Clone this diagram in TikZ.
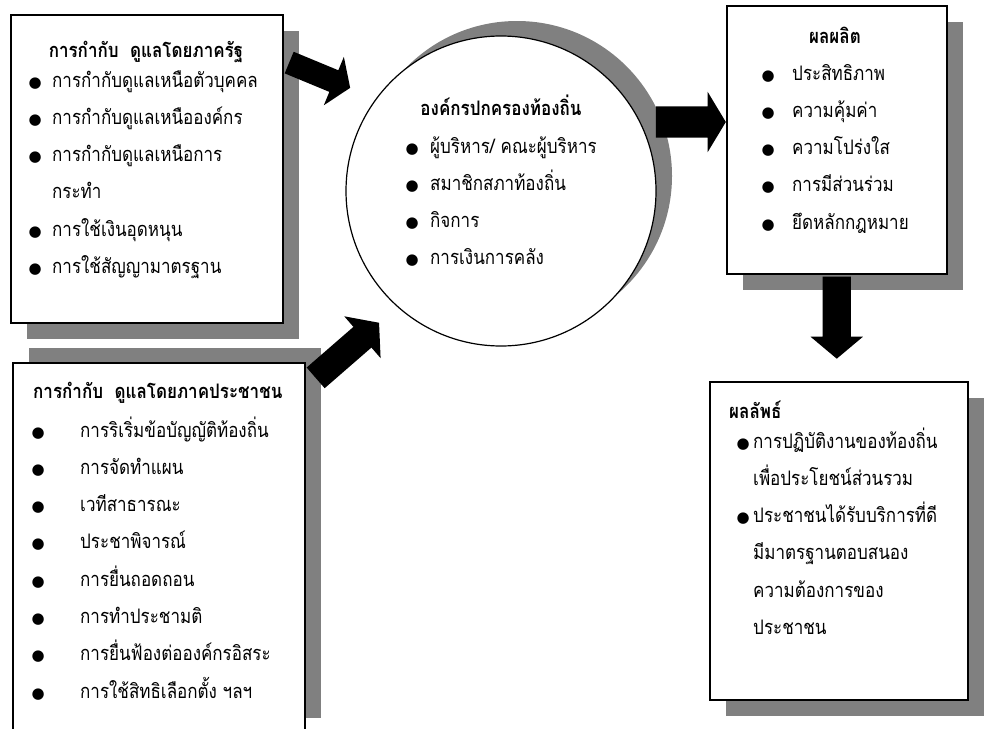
\documentclass[tikz,border=0pt]{standalone}
\usepackage{fontspec}
\setmainfont{Liberation Serif}
\newfontfamily\thai[Script=Thai,FakeStretch=0.85]{Loma}
\newfontfamily\dotfont{DejaVu Sans}
\usetikzlibrary{shapes.arrows,shadows}
\newcommand\dotmark{\makebox[9pt][c]{\dotfont\fontsize{15}{15}\selectfont ●}}
\tikzset{
  panel/.style={draw,line width=1.5pt,fill=white,inner sep=0pt,anchor=north west},
  shadelow/.style={drop shadow={shadow xshift=16pt,shadow yshift=-16pt,opacity=1,fill=black!50}},
  shadehigh/.style={drop shadow={shadow xshift=16pt,shadow yshift=15pt,opacity=1,fill=black!50}},
  fatarrow/.style={single arrow,fill=black,inner sep=0pt,anchor=tail},
  title/.style={inner sep=0pt,anchor=base,font=\thai\bfseries\fontsize{20}{20}\selectfont},
  items/.style={inner sep=0pt,anchor=base west,font=\thai\fontsize{20}{37.3}\selectfont},
}
\begin{document}
\begin{tikzpicture}[x=1pt,y=-1pt]
  \useasboundingbox (0,0) rectangle (987,728);
  % boxes and circle
  \node[panel,shadelow,minimum width=272pt,minimum height=308pt] (state) at (10,14) {};
  \node[panel,shadehigh,minimum width=292pt,minimum height=370pt] (public) at (12,362) {};
  \node[circle,draw,line width=1.2pt,fill=white,shadehigh,minimum size=310pt,inner sep=0pt] (org) at (501,191) {};
  \node[panel,shadelow,minimum width=220pt,minimum height=268pt] (output) at (726,5) {};
  \node[panel,shadelow,minimum width=258pt,minimum height=318pt] (outcome) at (709,381) {};
  % block arrows
  \node[fatarrow,rotate=-22.5,minimum height=66pt,inner ysep=11.5pt,single arrow head extend=14.5pt,single arrow tip angle=112] (stateto) at ([shift={(5.5,48.5)}]state.north east) {};
  \node[fatarrow,rotate=41,minimum height=84pt,inner ysep=13.5pt,single arrow head extend=14pt,single arrow tip angle=103] (publicto) at ([shift={(10,16)}]public.north east) {};
  \node[fatarrow,minimum height=70pt,inner ysep=15.5pt,single arrow head extend=14.5pt,single arrow tip angle=118] (orgto) at ([shift={(-1,-69)}]org.east) {};
  \node[fatarrow,rotate=-90,minimum height=82pt,inner ysep=14pt,single arrow head extend=12pt,single arrow tip angle=100] (outputto) at ([shift={(0,2)}]output.south) {};
  % texts
  \node[title] (statehead) at (146,57) {การกำกับ\ \ ดูแลโดยภาครัฐ};
  \node[items] (statelist) at (30.5,87) {\begin{tabular}[t]{@{}p{21.5pt}@{}l@{}}
    \dotmark & การกำกับดูแลเหนือตัวบุคคล\\
    \dotmark & การกำกับดูแลเหนือองค์กร\\
    \dotmark & การกำกับดูแลเหนือการ\\
             & กระทำ\\
    \dotmark & การใช้เงินอุดหนุน\\
    \dotmark & การใช้สัญญามาตรฐาน
  \end{tabular}};
  \node[title,anchor=base west] (publichead) at (33,398) {การกำกับ\ \ ดูแลโดยภาคประชาชน};
  \node[items] (publiclist) at (33.5,437) {\begin{tabular}[t]{@{}p{46.5pt}@{}l@{}}
    \dotmark & การริเริ่มข้อบัญญัติท้องถิ่น\\
    \dotmark & การจัดทำแผน\\
    \dotmark & เวทีสาธารณะ\\
    \dotmark & ประชาพิจารณ์\\
    \dotmark & การยื่นถอดถอน\\
    \dotmark & การทำประชามติ\\
    \dotmark & การยื่นฟ้องต่อองค์กรอิสระ\\
    \dotmark & การใช้สิทธิเลือกตั้ง ฯลฯ
  \end{tabular}};
  \node[title] (orghead) at (501,115) {องค์กรปกครองท้องถิ่น};
  \node[items] (orglist) at (407.5,153) {\begin{tabular}[t]{@{}p{22.5pt}@{}l@{}}
    \dotmark & ผู้บริหาร/ คณะผู้บริหาร\\
    \dotmark & สมาชิกสภาท้องถิ่น\\
    \dotmark & กิจการ\\
    \dotmark & การเงินการคลัง
  \end{tabular}};
  \node[title] (outputhead) at (835,43) {ผลผลิต};
  \node[items] (outputlist) at (763.5,80) {\begin{tabular}[t]{@{}p{28.5pt}@{}l@{}}
    \dotmark & ประสิทธิภาพ\\
    \dotmark & ความคุ้มค่า\\
    \dotmark & ความโปร่งใส\\
    \dotmark & การมีส่วนร่วม\\
    \dotmark & ยึดหลักกฎหมาย
  \end{tabular}};
  \node[title,anchor=base west] (outcomehead) at (729,418) {ผลลัพธ์};
  \node[items] (outcomelist) at (738.5,448) {\begin{tabular}[t]{@{}p{14.5pt}@{}l@{}}
    \dotmark & การปฏิบัติงานของท้องถิ่น\\
             & เพื่อประโยชน์ส่วนรวม\\
    \dotmark & ประชาชนได้รับบริการที่ดี\\
             & มีมาตรฐานตอบสนอง\\
             & ความต้องการของ\\
             & ประชาชน
  \end{tabular}};
\end{tikzpicture}
\end{document}
